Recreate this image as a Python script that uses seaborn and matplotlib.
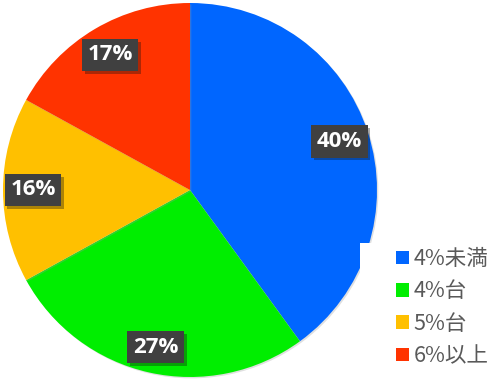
import matplotlib
matplotlib.use("Agg")
import matplotlib.pyplot as plt
import matplotlib.patheffects as pe
from matplotlib.patches import Patch, Rectangle
import seaborn as sns

categories = ["4%未満", "4%台", "5%台", "6%以上"]
values = [40, 27, 16, 17]
colors = ["#0066FF", "#00EE00", "#FFC000", "#FF3300"]

sns.set_theme(style="white")
plt.rcParams['font.family'] = ['Noto Sans CJK JP', 'DejaVu Sans']

fig = plt.figure(figsize=(5.0, 3.79), dpi=100)
fig.patch.set_facecolor("white")
ax = fig.add_axes([3/500, 2/379, 374/500, 374/379])
ax.set_facecolor("none")

pal = sns.color_palette(colors)
wedges, texts, autotexts = ax.pie(
    values, colors=pal, startangle=90, counterclock=False,
    autopct="%.0f%%", pctdistance=0.84, radius=1.0,
    wedgeprops=dict(linewidth=0),
    textprops=dict(color="white", fontsize=16, fontweight="bold",
                   family=["Open Sans", "DejaVu Sans"]))
for w in wedges:
    w.set_path_effects([pe.SimplePatchShadow(offset=(1, -1), shadow_rgbFace="#999999", alpha=0.3), pe.Normal()])
for t in autotexts:
    t.set_bbox(dict(boxstyle="square,pad=0.25", facecolor="#404040", edgecolor="none"))
    t.get_bbox_patch().set_path_effects([pe.SimplePatchShadow(offset=(2, -2), alpha=0.35), pe.Normal()])
x, y = autotexts[1].get_position()
autotexts[1].set_position((x, y - 0.02))
ax.set_xlim(-1, 1)
ax.set_ylim(-1, 1)
ax.set_aspect("equal")
ax.axis("off")

# white legend panel covering the pie edge, as in the reference
fig.patches.append(Rectangle((360/500, 0), 140/500, 136/379, transform=fig.transFigure,
                             facecolor="white", edgecolor="none", zorder=2))

handles = [Patch(facecolor=c, edgecolor="none") for c in pal]
leg = fig.legend(handles, categories, loc="lower right", bbox_to_anchor=(1.0, 0.0),
                 frameon=False, borderaxespad=0.0,
                 prop=dict(family=["Noto Sans CJK JP", "DejaVu Sans"], size=15.5),
                 handlelength=0.6, handleheight=0.6, handletextpad=0.2,
                 labelspacing=0.48, borderpad=0.55)
leg.set_zorder(5)
for txt in leg.get_texts():
    txt.set_color("#595959")

fig.savefig("out.png", dpi=100, facecolor="white")
